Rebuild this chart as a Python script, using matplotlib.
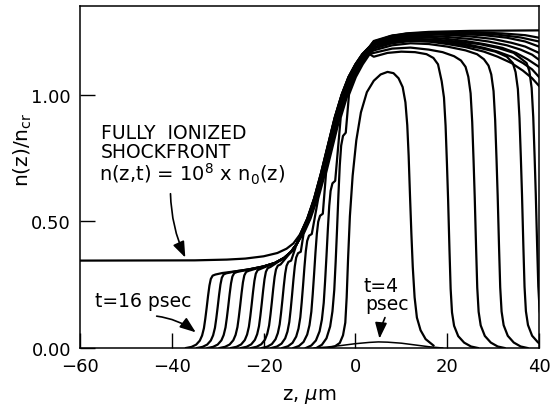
import matplotlib.pyplot as plt

# fully ionized shockfront, n(z,t) = 1e8 x n0(z)
env_z = [-60, -35, -28, -24, -20, -17, -15, -13.5, -12, -10.5, -9, -7.5, -6, -4.5, -3, -1.5, 0, 1.5, 3, 5, 7.5, 11, 16, 25, 40]
env_n = [0.345, 0.346, 0.349, 0.353, 0.362, 0.375, 0.392, 0.413, 0.45, 0.51, 0.59, 0.69, 0.80, 0.91, 1.0, 1.07, 1.12, 1.16, 1.188, 1.212, 1.23, 1.242, 1.248, 1.252, 1.254]

# t = 4 psec, small bump near the bottom
bump_z = [-9, -6, -3, 0, 3, 5, 7, 10, 13, 16, 19]
bump_n = [0.0, 0.004, 0.01, 0.017, 0.022, 0.024, 0.023, 0.019, 0.012, 0.005, 0.0]

# first full profile (peak ~1.09)
peak_z = [-6, -4.5, -3.4, -2.7, -2.2, -1.9, -1.6, -1.2, -0.6, 0.2, 1.2, 2.5, 4, 5.5, 7, 8.3, 9.4, 10.3, 10.9, 11.3, 11.6, 11.9, 12.2, 12.5, 12.9, 13.4, 14.2, 15.3, 17]
peak_n = [0.0, 0.006, 0.02, 0.05, 0.1, 0.2, 0.35, 0.52, 0.68, 0.82, 0.93, 1.01, 1.055, 1.08, 1.09, 1.085, 1.065, 1.03, 0.97, 0.88, 0.76, 0.6, 0.45, 0.32, 0.2, 0.12, 0.07, 0.035, 0.01]

# shape of the steep left edge (offset from mid-rise, fraction of its top)
rise_dz = [-4.5, -3.3, -2.3, -1.5, -1.0, -0.6, -0.3, 0.0, 0.3, 0.6, 0.9, 1.3, 1.9]
rise_f = [0.0, 0.015, 0.045, 0.1, 0.17, 0.27, 0.4, 0.55, 0.71, 0.85, 0.94, 0.985, 1.0]

# lower plateau that the later profiles ride on before meeting the shockfront
plat_z = [-29, -26, -23, -20, -17.5, -15.5, -14, -12.8]
plat_n = [0.296, 0.303, 0.311, 0.322, 0.336, 0.356, 0.38, 0.41]

# shape of the steep right edge (offset from mid-drop, fraction of its top)
drop_dz = [-1.4, -0.9, -0.55, -0.25, 0, 0.3, 0.55, 0.85, 1.3, 2.2, 3.5, 5.0, 6.5]
drop_f = [0.9, 0.845, 0.75, 0.62, 0.5, 0.33, 0.2, 0.12, 0.075, 0.04, 0.018, 0.005, 0.0]

# later profiles, earliest first (last one is t = 16 psec)
rise_mid = [-4.0, -6.3, -9.0, -11.4, -13.8, -15.9, -18.2, -20.4, -22.6, -25.1, -27.7, -30.0, -32.4]
rise_top = [0.85, 0.66, 0.53, 0.45, 0.38, 0.345, 0.33, 0.32, 0.312, 0.305, 0.3, 0.295, 0.29]
shift = [1.6, 1.3, 1.1, 0.9, 0.7, 0.55, 0.45, 0.35, 0.25, 0.2, 0.1, 0.05, 0.0]

# where each profile falls off on the right (None: still above the edge)
drop_mid = [20.2, 26.0, 31.0, 36.3, 39.3, None, None, None, None, None, None, None, None]
drop_top = [1.17, 1.19, 1.20, 1.21, 1.215, None, None, None, None, None, None, None, None]

# upper part of each profile after it leaves the shockfront bundle
top_z = [
    [4, 7, 10, 13, 15.5, 17, 18.0],
    [4, 8, 12, 16, 19, 21.5, 23, 24.0],
    [4, 8, 12, 16, 20, 24, 26.5, 28.0, 29.0],
    [4, 8, 12, 17, 22, 27, 30.5, 33, 34.3],
    [4, 8, 12, 17, 22, 27, 31, 34.5, 37.3],
    [4, 8, 12, 16, 20, 24, 28, 31, 34, 36.5, 38.5, 40],
    [4, 8, 12, 16, 20, 24, 28, 31, 34, 36.5, 38.5, 40],
    [4, 8, 12, 16, 20, 24, 28, 32, 35, 37.5, 40],
    [4, 8, 12, 16, 20, 25, 29, 33, 36, 38.5, 40],
    [4, 8, 12, 16, 20, 25, 30, 34, 37, 40],
    [4, 8, 12, 16, 22, 28, 33, 37, 40],
    [4, 8, 12, 18, 25, 31, 36, 40],
    [4, 8, 12, 18, 26, 32, 37, 40],
]
top_n = [
    [1.15, 1.165, 1.17, 1.168, 1.16, 1.145, 1.12],
    [1.165, 1.182, 1.186, 1.178, 1.168, 1.152, 1.135, 1.11],
    [1.175, 1.195, 1.203, 1.2, 1.19, 1.175, 1.16, 1.14, 1.115],
    [1.182, 1.203, 1.212, 1.21, 1.2, 1.185, 1.17, 1.15, 1.125],
    [1.188, 1.208, 1.218, 1.218, 1.21, 1.2, 1.185, 1.165, 1.125],
    [1.195, 1.212, 1.215, 1.21, 1.2, 1.188, 1.17, 1.15, 1.125, 1.095, 1.065, 1.035],
    [1.198, 1.216, 1.222, 1.218, 1.21, 1.2, 1.185, 1.17, 1.15, 1.125, 1.1, 1.07],
    [1.2, 1.22, 1.228, 1.226, 1.22, 1.212, 1.2, 1.185, 1.165, 1.14, 1.11],
    [1.203, 1.224, 1.232, 1.232, 1.228, 1.22, 1.21, 1.195, 1.178, 1.158, 1.138],
    [1.206, 1.227, 1.236, 1.238, 1.236, 1.23, 1.22, 1.205, 1.19, 1.165],
    [1.208, 1.23, 1.238, 1.241, 1.24, 1.235, 1.225, 1.21, 1.19],
    [1.21, 1.232, 1.24, 1.244, 1.243, 1.237, 1.226, 1.21],
    [1.212, 1.234, 1.242, 1.246, 1.246, 1.242, 1.235, 1.225],
]

fig = plt.figure(figsize=(5.51, 4.10), dpi=100)
ax = fig.add_axes([0.1452, 0.1488, 0.833, 0.834])

lw = 1.6
ax.plot(env_z, env_n, color="black", lw=lw)
ax.plot(bump_z, bump_n, color="black", lw=1.1)
ax.plot(peak_z, peak_n, color="black", lw=lw)

for k in range(len(rise_mid)):
    a = rise_mid[k]
    h = rise_top[k]
    s = shift[k]
    zs = [a + dz for dz in rise_dz]
    ns = [h * f for f in rise_f]
    last = zs[-1]
    if a < -15:
        for pz, pn in zip(plat_z, plat_n):
            if pz > last + 1.0:
                zs.append(pz)
                ns.append(pn)
        last = zs[-1]
    for ez, en in zip(env_z, env_n):
        if last + 0.3 < ez + s < 3.5:
            zs.append(ez + s)
            ns.append(en)
    zs += top_z[k]
    ns += top_n[k]
    if drop_mid[k] is not None:
        zs += [drop_mid[k] + dz for dz in drop_dz]
        ns += [drop_top[k] * f for f in drop_f]
    ax.plot(zs, ns, color="black", lw=lw, solid_joinstyle="round")

ax.set_xlim(-60, 40)
ax.set_ylim(0, 1.35)
ax.set_xticks([-60, -40, -20, 0, 20, 40])
ax.set_yticks([0, 0.5, 1.0])
ax.set_yticklabels(["0.00", "0.50", "1.00"])
ax.tick_params(direction="in", length=11, width=1.0, labelsize=13, pad=6.5)
for sp in ax.spines.values():
    sp.set_linewidth(1.1)

ax.set_xlabel(r"z, $\mu$m", fontsize=14)
ax.xaxis.set_label_coords(0.5, -0.112)
ax.set_ylabel(r"n(z)/n$_{\rm cr}$", fontsize=14.5)
ax.yaxis.set_label_coords(-0.10, 0.582)

ax.text(-55.4, 0.852, "FULLY  IONIZED", fontsize=13.5, va="center", ha="left")
ax.text(-55.4, 0.776, "SHOCKFRONT", fontsize=13.5, va="center", ha="left")
ax.text(-55.8, 0.688, r"n(z,t) = 10$^{8}$ x n$_{0}$(z)", fontsize=14, va="center", ha="left")
ax.text(-56.7, 0.186, "t=16 psec", fontsize=13.5, va="center", ha="left")
ax.text(5.6, 0.245, "t=4", fontsize=13.5, va="center", ha="center")
ax.text(6.9, 0.174, "psec", fontsize=13.5, va="center", ha="center")

arr = dict(arrowstyle="-|>,head_length=0.8,head_width=0.3", color="black", lw=1.2, mutation_scale=12)
ax.annotate("", xy=(-36.8, 0.347), xytext=(-40.3, 0.62),
            arrowprops=dict(connectionstyle="arc3,rad=0.11", **arr))
ax.annotate("", xy=(-34.3, 0.055), xytext=(-43.9, 0.127),
            arrowprops=dict(connectionstyle="arc3,rad=-0.15", **arr))
ax.annotate("", xy=(5.2, 0.026), xytext=(6.7, 0.13),
            arrowprops=dict(connectionstyle="arc3,rad=0.1", **arr))

fig.savefig("out.png", dpi=100)
